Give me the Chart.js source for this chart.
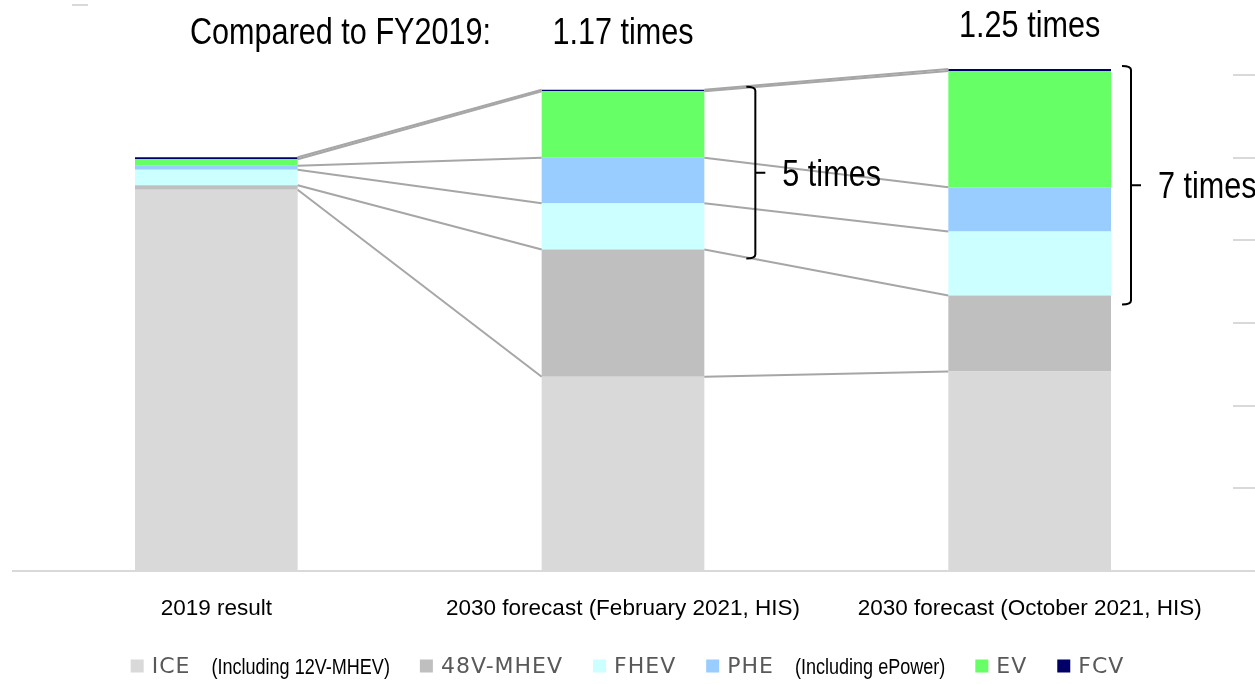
<!DOCTYPE html>
<html><head><meta charset="utf-8">
<script src="https://cdn.jsdelivr.net/npm/chart.js@4/dist/chart.umd.min.js"></script>
<style>html,body{margin:0;padding:0;background:#fff;overflow:hidden}#wrap{width:1255px;height:684px;position:relative}</style>
</head><body><div id="wrap"><canvas id="c" width="1255" height="684"></canvas></div>
<script>
const categories = ["2019 result", "2030 forecast (February 2021, HIS)", "2030 forecast (October 2021, HIS)"];
const seriesNames = ["ICE", "48V-MHEV", "FHEV", "PHE", "EV", "FCV"];
const seriesNotes = ["(Including 12V-MHEV)", "", "", "(Including ePower)", "", ""];
const iceValues = [92.3, 47.0, 48.3];
const mhev48Values = [1.05, 30.8, 18.4];
const fhevValues = [3.8, 11.2, 15.5];
const pheValues = [0.97, 11.0, 10.7];
const evValues = [1.53, 16.1, 28.1];
const fcvValues = [0.48, 0.4, 0.5];
const seriesColors = ["#d9d9d9", "#bfbfbf", "#ccffff", "#99ccff", "#66ff66", "#000066"];
const yTickValues = [0, 20, 40, 60, 80, 100, 120];
const headline = "Compared to FY2019:";
const growthLabels = ["", "1.17 times", "1.25 times"];
const bracketLabels = ["", "5 times", "7 times"];

const seriesValues = [iceValues, mhev48Values, fhevValues, pheValues, evValues, fcvValues];
const FONT = '"Liberation Sans", Arial, sans-serif';
const bracketOffsets = [0, 51, 20];
const growthBaselines = [0, 44, 37];

function narrowText(ctx, text, x, y, size, align, color, sx) {
  ctx.save();
  ctx.translate(x, y);
  ctx.scale(sx, 1);
  ctx.font = size + 'px ' + FONT;
  ctx.letterSpacing = '0px';
  ctx.fillStyle = color;
  ctx.textAlign = align;
  ctx.textBaseline = 'alphabetic';
  ctx.fillText(text, 0, 0);
  ctx.restore();
}

const overlay = {
  id: 'overlay',
  afterDatasetsDraw(chart) {
    const ctx = chart.ctx;
    const metas = chart.data.datasets.map((d, i) => chart.getDatasetMeta(i));
    ctx.save();
    ctx.strokeStyle = '#a6a6a6';
    ctx.lineWidth = 2;
    metas.forEach(meta => {
      for (let i = 0; i < meta.data.length - 1; i++) {
        const a = meta.data[i], b = meta.data[i + 1];
        ctx.beginPath();
        ctx.moveTo(a.x + a.width / 2, a.y);
        ctx.lineTo(b.x - b.width / 2, b.y);
        ctx.stroke();
      }
    });
    ctx.restore();
  },
  afterDraw(chart) {
    const ctx = chart.ctx;
    const ys = chart.scales.y;
    const area = chart.chartArea;
    const meta0 = chart.getDatasetMeta(0);
    ctx.save();
    ctx.strokeStyle = '#d9d9d9';
    ctx.lineWidth = 2;
    ctx.beginPath();
    ctx.moveTo(72, area.top);
    ctx.lineTo(88, area.top);
    ctx.stroke();
    ctx.restore();

    const TS = 36, TSX = 0.85;
    narrowText(ctx, headline, 190, 44, TS, 'left', '#000', TSX);
    growthLabels.forEach((t, i) => {
      if (!t) return;
      const el = meta0.data[i];
      narrowText(ctx, t, el.x, growthBaselines[i], TS, 'center', '#000', TSX);
    });

    bracketLabels.forEach((t, i) => {
      if (!t) return;
      const el = meta0.data[i];
      let total = 0;
      seriesValues.forEach(v => total += v[i]);
      const top = ys.getPixelForValue(total) - 3;
      const bottom = ys.getPixelForValue(iceValues[i] + mhev48Values[i]) + 9;
      const x = el.x + el.width / 2 + bracketOffsets[i];
      const mid = (top + bottom) / 2;
      ctx.save();
      ctx.strokeStyle = '#000';
      ctx.lineWidth = 2;
      ctx.beginPath();
      ctx.moveTo(x - 9, top);
      ctx.quadraticCurveTo(x, top, x, top + 4);
      ctx.lineTo(x, bottom - 4);
      ctx.quadraticCurveTo(x, bottom, x - 9, bottom);
      ctx.moveTo(x, mid);
      ctx.lineTo(x + 10, mid);
      ctx.stroke();
      ctx.restore();
      narrowText(ctx, t, x + 27, mid + 13, TS, 'left', '#000', TSX);
    });

    // legend
    const items = chart.data.datasets.map((d, i) => ({ label: d.label, color: d.backgroundColor, note: seriesNotes[i] }));
    const sq = 13, gapSq = 8, gapNote = 21, gapItem = 30;
    const labFont = '22px "DejaVu Sans", sans-serif';
    const noteSize = 22, noteSx = 0.82;
    ctx.save();
    items.forEach(it => {
      ctx.font = labFont;
      ctx.letterSpacing = '1px';
      it.lw = ctx.measureText(it.label).width;
      let w = sq + gapSq + it.lw;
      if (it.note) {
        ctx.font = noteSize + 'px ' + FONT;
        ctx.letterSpacing = '0px';
        w += gapNote + ctx.measureText(it.note).width * noteSx;
      }
      it.w = w;
    });
    const total = items.reduce((a, it) => a + it.w, 0) + gapItem * (items.length - 1);
    let lx = (chart.width - total) / 2;
    const ly = 666;
    items.forEach(it => {
      ctx.fillStyle = it.color;
      ctx.fillRect(lx, ly - sq / 2, sq, sq);
      ctx.font = labFont;
      ctx.letterSpacing = '1px';
      ctx.fillStyle = '#595959';
      ctx.textBaseline = 'middle';
      ctx.textAlign = 'left';
      ctx.fillText(it.label, lx + sq + gapSq, ly + 1);
      if (it.note) {
        narrowText(ctx, it.note, lx + sq + gapSq + it.lw + gapNote, ly + 8, noteSize, 'left', '#000', noteSx);
      }
      lx += it.w + gapItem;
    });
    ctx.restore();
  }
};

const datasets = seriesNames.map((name, i) => ({
  label: name,
  data: seriesValues[i],
  backgroundColor: seriesColors[i],
  borderWidth: 0,
  barPercentage: 0.4,
  categoryPercentage: 1.0
}));

new Chart(document.getElementById('c'), {
  type: 'bar',
  data: { labels: categories, datasets: datasets },
  options: {
    responsive: false,
    animation: false,
    devicePixelRatio: 1,
    layout: { padding: { top: 5, left: 13, right: 0, bottom: 46 } },
    plugins: { legend: { display: false }, tooltip: { enabled: false } },
    scales: {
      x: {
        stacked: true,
        grid: { display: false },
        border: { display: true, color: '#d9d9d9', width: 2 },
        ticks: { color: '#000', font: { family: FONT, size: 22.5 }, padding: 16, maxRotation: 0 }
      },
      y: {
        stacked: true,
        position: 'right',
        min: 0,
        max: 137,
        afterBuildTicks: (s) => { s.ticks = yTickValues.map(v => ({ value: v })); },
        ticks: { display: false },
        grid: { drawOnChartArea: false, drawTicks: true, tickLength: 22, color: '#d9d9d9', lineWidth: 2 },
        border: { display: false }
      }
    }
  },
  plugins: [overlay]
});
</script>
</body></html>
